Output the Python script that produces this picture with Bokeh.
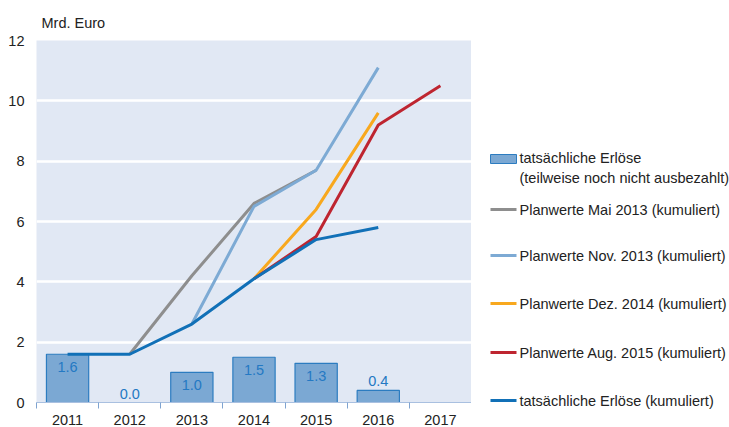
from bokeh.plotting import figure
from bokeh.models import Range1d, FixedTicker, ColumnDataSource
from bokeh.layouts import row
from bokeh.embed import file_html
from bokeh.resources import INLINE

# ---- data ----
years = [2011, 2012, 2013, 2014, 2015, 2016, 2017]
year_labels = ["2011", "2012", "2013", "2014", "2015", "2016", "2017"]
bar_years = [2011, 2012, 2013, 2014, 2015, 2016]
erloese = [1.6, 0.0, 1.0, 1.5, 1.3, 0.4]
kum_years = [2011, 2012, 2013, 2014, 2015, 2016]
kum_values = [1.6, 1.6, 2.6, 4.1, 5.4, 5.8]
mai13_years = [2012, 2013, 2014, 2015]
mai13_values = [1.6, 4.2, 6.6, 7.7]
nov13_years = [2013, 2014, 2015, 2016]
nov13_values = [2.6, 6.5, 7.7, 11.1]
dez14_years = [2014, 2015, 2016]
dez14_values = [4.1, 6.4, 9.6]
aug15_years = [2014, 2015, 2016, 2017]
aug15_values = [4.1, 5.5, 9.2, 10.5]
y_ticks = [0, 2, 4, 6, 8, 10, 12]

legend_labels = [
    "tatsächliche Erlöse",
    "(teilweise noch nicht ausbezahlt)",
    "Planwerte Mai 2013 (kumuliert)",
    "Planwerte Nov. 2013 (kumuliert)",
    "Planwerte Dez. 2014 (kumuliert)",
    "Planwerte Aug. 2015 (kumuliert)",
    "tatsächliche Erlöse (kumuliert)",
]

# ---- style ----
FONT = "Liberation Sans"
FS = "14.5px"
BG = "#E1E8F4"
C_GRAY = "#8E8E8E"
C_LBLUE = "#7DAAD4"
C_ORANGE = "#F8A81E"
C_RED = "#BE2530"
C_DBLUE = "#1170B7"
C_BAR = "#7BA8D3"
C_BAR_LINE = "#2C7CC0"
C_BAR_TXT = "#2479C3"
C_TXT = "#222222"

TOP, BOTTOM, H = 40, 24, 427

p = figure(width=471, height=H, output_backend="svg", toolbar_location=None,
           x_range=Range1d(years[0] - 0.5, years[-1] + 0.5), y_range=Range1d(0, 12),
           min_border_left=36, min_border_right=0, min_border_top=TOP, min_border_bottom=BOTTOM)
p.frame_align = False
p.background_fill_color = BG
p.border_fill_color = "white"
p.outline_line_color = None

p.title.text = "Mrd. Euro"
p.title.text_font = FONT
p.title.text_font_size = FS
p.title.text_font_style = "normal"
p.title.text_color = C_TXT
p.title.align = "left"
p.title.offset = 5
p.title.standoff = 19

# axes
p.xaxis.ticker = FixedTicker(ticks=years, minor_ticks=[y - 0.5 for y in years] + [years[-1] + 0.5])
p.xaxis.major_label_overrides = {y: l for y, l in zip(years, year_labels)}
p.xaxis.major_tick_line_color = None
p.xaxis.major_tick_out = 0
p.xaxis.major_tick_in = 0
p.xaxis.minor_tick_line_color = "#7FA3D0"
p.xaxis.minor_tick_out = 6
p.xaxis.minor_tick_in = 0
p.xaxis.axis_line_color = "#A9C0E0"
p.xaxis.axis_line_width = 1
p.xaxis.major_label_standoff = 6
p.xaxis.major_label_text_font = FONT
p.xaxis.major_label_text_font_size = FS
p.xaxis.major_label_text_color = C_TXT

p.yaxis.ticker = FixedTicker(ticks=y_ticks)
p.yaxis.axis_line_color = None
p.yaxis.major_tick_line_color = None
p.yaxis.minor_tick_line_color = None
p.yaxis.major_tick_out = 0
p.yaxis.major_tick_in = 0
p.yaxis.major_label_standoff = 12
p.yaxis.major_label_text_font = FONT
p.yaxis.major_label_text_font_size = FS
p.yaxis.major_label_text_color = C_TXT

p.xgrid.grid_line_color = None
p.ygrid.grid_line_color = "white"
p.ygrid.grid_line_width = 2.5

# bars
p.vbar(x=bar_years, top=erloese, bottom=0, width=0.68, fill_color=C_BAR,
       line_color=C_BAR_LINE, line_width=1.2)

# bar labels
inside = [(x, v) for x, v in zip(bar_years, erloese) if v >= 1.0]
above = [(x, v) for x, v in zip(bar_years, erloese) if v < 1.0]
src_in = ColumnDataSource(dict(x=[a for a, b in inside], y=[b for a, b in inside],
                               t=["%.1f" % b for a, b in inside]))
src_ab = ColumnDataSource(dict(x=[a for a, b in above], y=[b for a, b in above],
                               t=["%.1f" % b for a, b in above]))
p.text(x="x", y="y", text="t", source=src_in, text_align="center", text_baseline="top",
       y_offset=8, text_font_size=FS, text_color=C_BAR_TXT, text_font={"value": FONT})
p.text(x="x", y="y", text="t", source=src_ab, text_align="center", text_baseline="bottom",
       y_offset=-4, text_font_size=FS, text_color=C_BAR_TXT, text_font={"value": FONT})

# lines
LW = 3
p.line(mai13_years, mai13_values, line_color=C_GRAY, line_width=LW)
p.line(nov13_years, nov13_values, line_color=C_LBLUE, line_width=LW)
p.line(dez14_years, dez14_values, line_color=C_ORANGE, line_width=LW)
p.line(aug15_years, aug15_values, line_color=C_RED, line_width=LW)
p.line(kum_years, kum_values, line_color=C_DBLUE, line_width=LW)

# ---- legend panel (page-pixel coordinates) ----
lg = figure(width=258, height=H, output_backend="svg", toolbar_location=None,
            x_range=Range1d(471, 729), y_range=Range1d(H, 0),
            x_axis_location=None, y_axis_location=None,
            min_border=0, min_border_left=0, min_border_right=0,
            min_border_top=0, min_border_bottom=0)
lg.frame_align = False
lg.outline_line_color = None
lg.background_fill_color = "white"
lg.border_fill_color = "white"
lg.xgrid.visible = False
lg.ygrid.visible = False

SW_L, SW_R, TX = 490, 516, 519
lg.quad(left=[SW_L], right=[SW_R], top=[154], bottom=[163], fill_color=C_BAR,
        line_color=C_BAR_LINE, line_width=1)
line_rows = [209, 255, 303, 352, 400]
line_cols = [C_GRAY, C_LBLUE, C_ORANGE, C_RED, C_DBLUE]
lg.segment(x0=[SW_L] * 5, x1=[SW_R] * 5, y0=line_rows, y1=line_rows,
           line_color=line_cols, line_width=3)
text_rows = [157, 177] + line_rows
lg.text(x=[TX] * 7, y=text_rows, text=legend_labels, text_baseline="middle",
        text_align="left", text_font_size=FS, text_color=C_TXT,
        text_font={"value": FONT})

layout = row(p, lg, spacing=0)
open("out.html", "w").write(file_html(layout, INLINE))
